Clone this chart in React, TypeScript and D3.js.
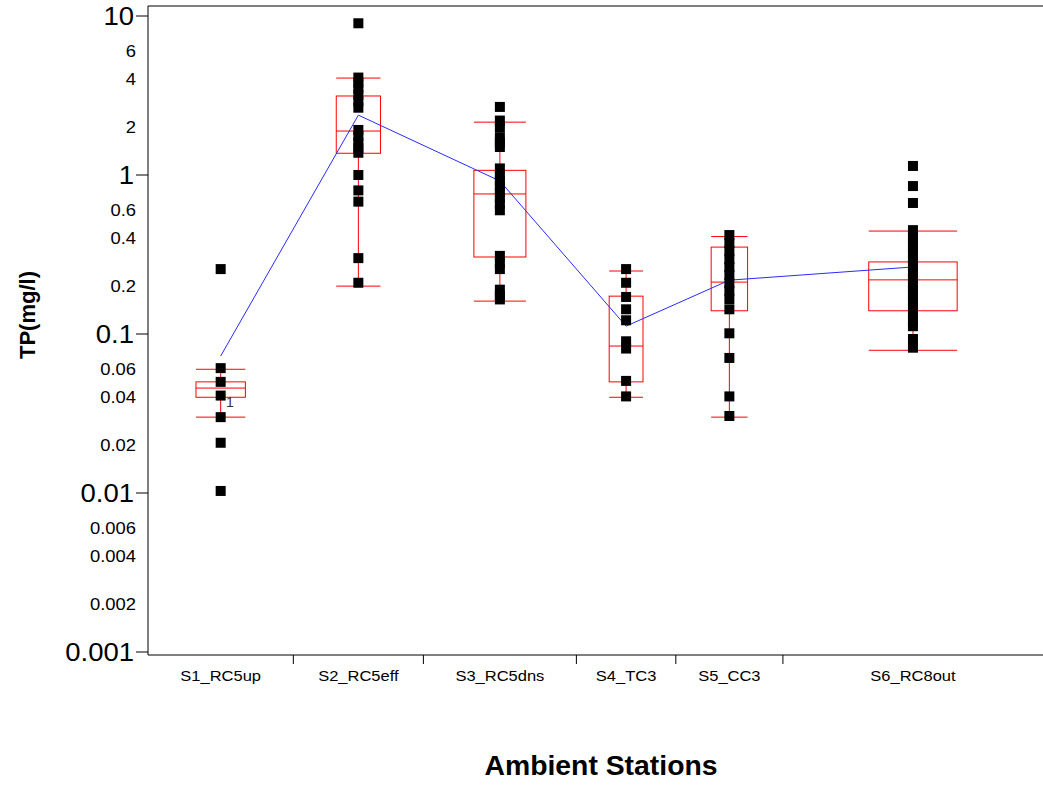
import React from "react";
import * as d3 from "d3";

const stations = ["S1_RC5up", "S2_RC5eff", "S3_RC5dns", "S4_TC3", "S5_CC3", "S6_RC8out"];
const stationCounts = [19, 17, 20, 13, 14, 34];

const whiskerLow = [0.03, 0.2, 0.161, 0.04, 0.03, 0.079];
const q1 = [0.04, 1.37, 0.305, 0.05, 0.14, 0.14];
const medians = [0.0457, 1.89, 0.76, 0.084, 0.212, 0.219];
const q3 = [0.05, 3.14, 1.07, 0.173, 0.352, 0.284];
const whiskerHigh = [0.06, 4.07, 2.15, 0.249, 0.41, 0.444];
const means = [0.0727, 2.38, 0.917, 0.112, 0.218, 0.264];

const s1Points = [0.256, 0.061, 0.05, 0.041, 0.03, 0.0207, 0.0103];
const s2Points = [9.0, 4.1, 3.8, 3.5, 3.2, 2.9, 2.65, 1.92, 1.75, 1.6, 1.48, 1.38, 1.0, 0.8, 0.68, 0.3, 0.21];
const s3Points = [2.68, 2.2, 2.0, 1.73, 1.6, 1.5, 1.1, 1.0, 0.92, 0.85, 0.78, 0.72, 0.66, 0.6, 0.31, 0.28, 0.256, 0.19, 0.175, 0.165];
const s4Points = [0.256, 0.21, 0.171, 0.143, 0.122, 0.09, 0.081, 0.0507, 0.0405];
const s5Points = [0.419, 0.373, 0.333, 0.296, 0.264, 0.235, 0.209, 0.187, 0.166, 0.143, 0.101, 0.0707, 0.0405, 0.0305];
const s6Points = [1.14, 0.852, 0.667, 0.45, 0.41, 0.38, 0.35, 0.32, 0.29, 0.27, 0.245, 0.225, 0.205, 0.19, 0.175, 0.16, 0.145, 0.135, 0.122, 0.112, 0.093, 0.082];
const stationPoints = [s1Points, s2Points, s3Points, s4Points, s5Points, s6Points];

const majorTicks = [10, 1, 0.1, 0.01, 0.001];
const majorLabels = ["10", "1", "0.1", "0.01", "0.001"];
const minorTicks = [6, 4, 2, 0.6, 0.4, 0.2, 0.06, 0.04, 0.02, 0.006, 0.004, 0.002];
const minorLabels = ["6", "4", "2", "0.6", "0.4", "0.2", "0.06", "0.04", "0.02", "0.006", "0.004", "0.002"];

const FONT = "Arial, 'Liberation Sans', sans-serif";

export default function App() {
  const W = 1043;
  const H = 787;
  const left = 148;
  const right = 1043;
  const top = 6;
  const bottom = 655;

  const y = d3.scaleLog().domain([0.001, 10]).range([652, 16]);
  const total = d3.sum(stationCounts);
  const x = d3.scaleLinear().domain([0, total]).range([left, right]);
  const cum = [0, ...d3.cumsum(stationCounts)];
  const bounds = cum.map((c) => x(c));
  const centers = stationCounts.map((_, i) => (bounds[i] + bounds[i + 1]) / 2);
  const boxW = stationCounts.map((_, i) => (bounds[i + 1] - bounds[i]) * 0.34);

  const meanLine = d3
    .line<number>()
    .x((_, i) => centers[i])
    .y((d) => y(d))(means);

  const red = "#ff0000";
  const ps = 10;

  return (
    <svg
      width={W}
      height={H}
      style={{ position: "absolute", left: 0, top: 0, background: "#fff" }}
      fontFamily={FONT}
    >
      <rect x={0} y={0} width={W} height={H} fill="#fff" />
      {/* frame */}
      <line x1={left} x2={right} y1={top} y2={top} stroke="#000" strokeWidth={1} />
      <line x1={left} x2={left} y1={top} y2={bottom} stroke="#000" strokeWidth={1} />
      <line x1={left} x2={right} y1={bottom} y2={bottom} stroke="#000" strokeWidth={1} />

      {/* y axis major ticks */}
      {majorTicks.map((t, i) => (
        <g key={"M" + i}>
          <line x1={136} x2={left} y1={y(t)} y2={y(t)} stroke="#000" strokeWidth={1} />
          <text
            transform={`translate(134,${y(t) + 9}) scale(1.1,1)`}
            textAnchor="end"
            fontSize={25}
            fill="#000"
          >
            {majorLabels[i]}
          </text>
        </g>
      ))}
      {minorTicks.map((t, i) => (
        <text
          key={"m" + i}
          transform={`translate(136,${y(t) + 6}) scale(1.15,1)`}
          textAnchor="end"
          fontSize={16}
          fill="#000"
        >
          {minorLabels[i]}
        </text>
      ))}

      {/* x axis ticks */}
      {bounds.slice(1, -1).map((b, i) => (
        <line key={"xt" + i} x1={b} x2={b} y1={bottom} y2={bottom + 9} stroke="#000" strokeWidth={1} />
      ))}
      {stations.map((s, i) => (
        <text
          key={"xl" + i}
          transform={`translate(${centers[i]},681) scale(1.1,1)`}
          textAnchor="middle"
          fontSize={15}
          fill="#000"
        >
          {s}
        </text>
      ))}

      {/* boxes */}
      {stations.map((s, i) => {
        const cx = centers[i];
        const hw = boxW[i] / 2;
        return (
          <g key={"box" + i} stroke={red} strokeWidth={1} fill="none">
            <line x1={cx} x2={cx} y1={y(whiskerLow[i])} y2={y(whiskerHigh[i])} />
            <line x1={cx - hw} x2={cx + hw} y1={y(whiskerLow[i])} y2={y(whiskerLow[i])} />
            <line x1={cx - hw} x2={cx + hw} y1={y(whiskerHigh[i])} y2={y(whiskerHigh[i])} />
            <rect x={cx - hw} y={y(q3[i])} width={2 * hw} height={y(q1[i]) - y(q3[i])} fill="#fff" />
            <line x1={cx - hw} x2={cx + hw} y1={y(medians[i])} y2={y(medians[i])} />
          </g>
        );
      })}

      {/* mean line */}
      <path d={meanLine || ""} fill="none" stroke="#2a2aff" strokeWidth={1} />

      {/* points */}
      {stationPoints.map((pts, i) =>
        pts.map((v, j) => (
          <rect
            key={"p" + i + "_" + j}
            x={centers[i] - ps / 2}
            y={y(v) - ps / 2}
            width={ps}
            height={ps}
            fill="#000"
          />
        ))
      )}

      <text x={226} y={407} fontSize={14} fill="#333">
        1
      </text>

      {/* axis titles */}
      <text
        transform={`translate(35,${315}) rotate(-90)`}
        textAnchor="middle"
        fontSize={22}
        fontWeight="bold"
        fill="#000"
      >
        TP(mg/l)
      </text>
      <text
        transform="translate(601,775) scale(1.05,1)"
        textAnchor="middle"
        fontSize={27}
        fontWeight="bold"
        fill="#000"
      >
        Ambient Stations
      </text>
    </svg>
  );
}
